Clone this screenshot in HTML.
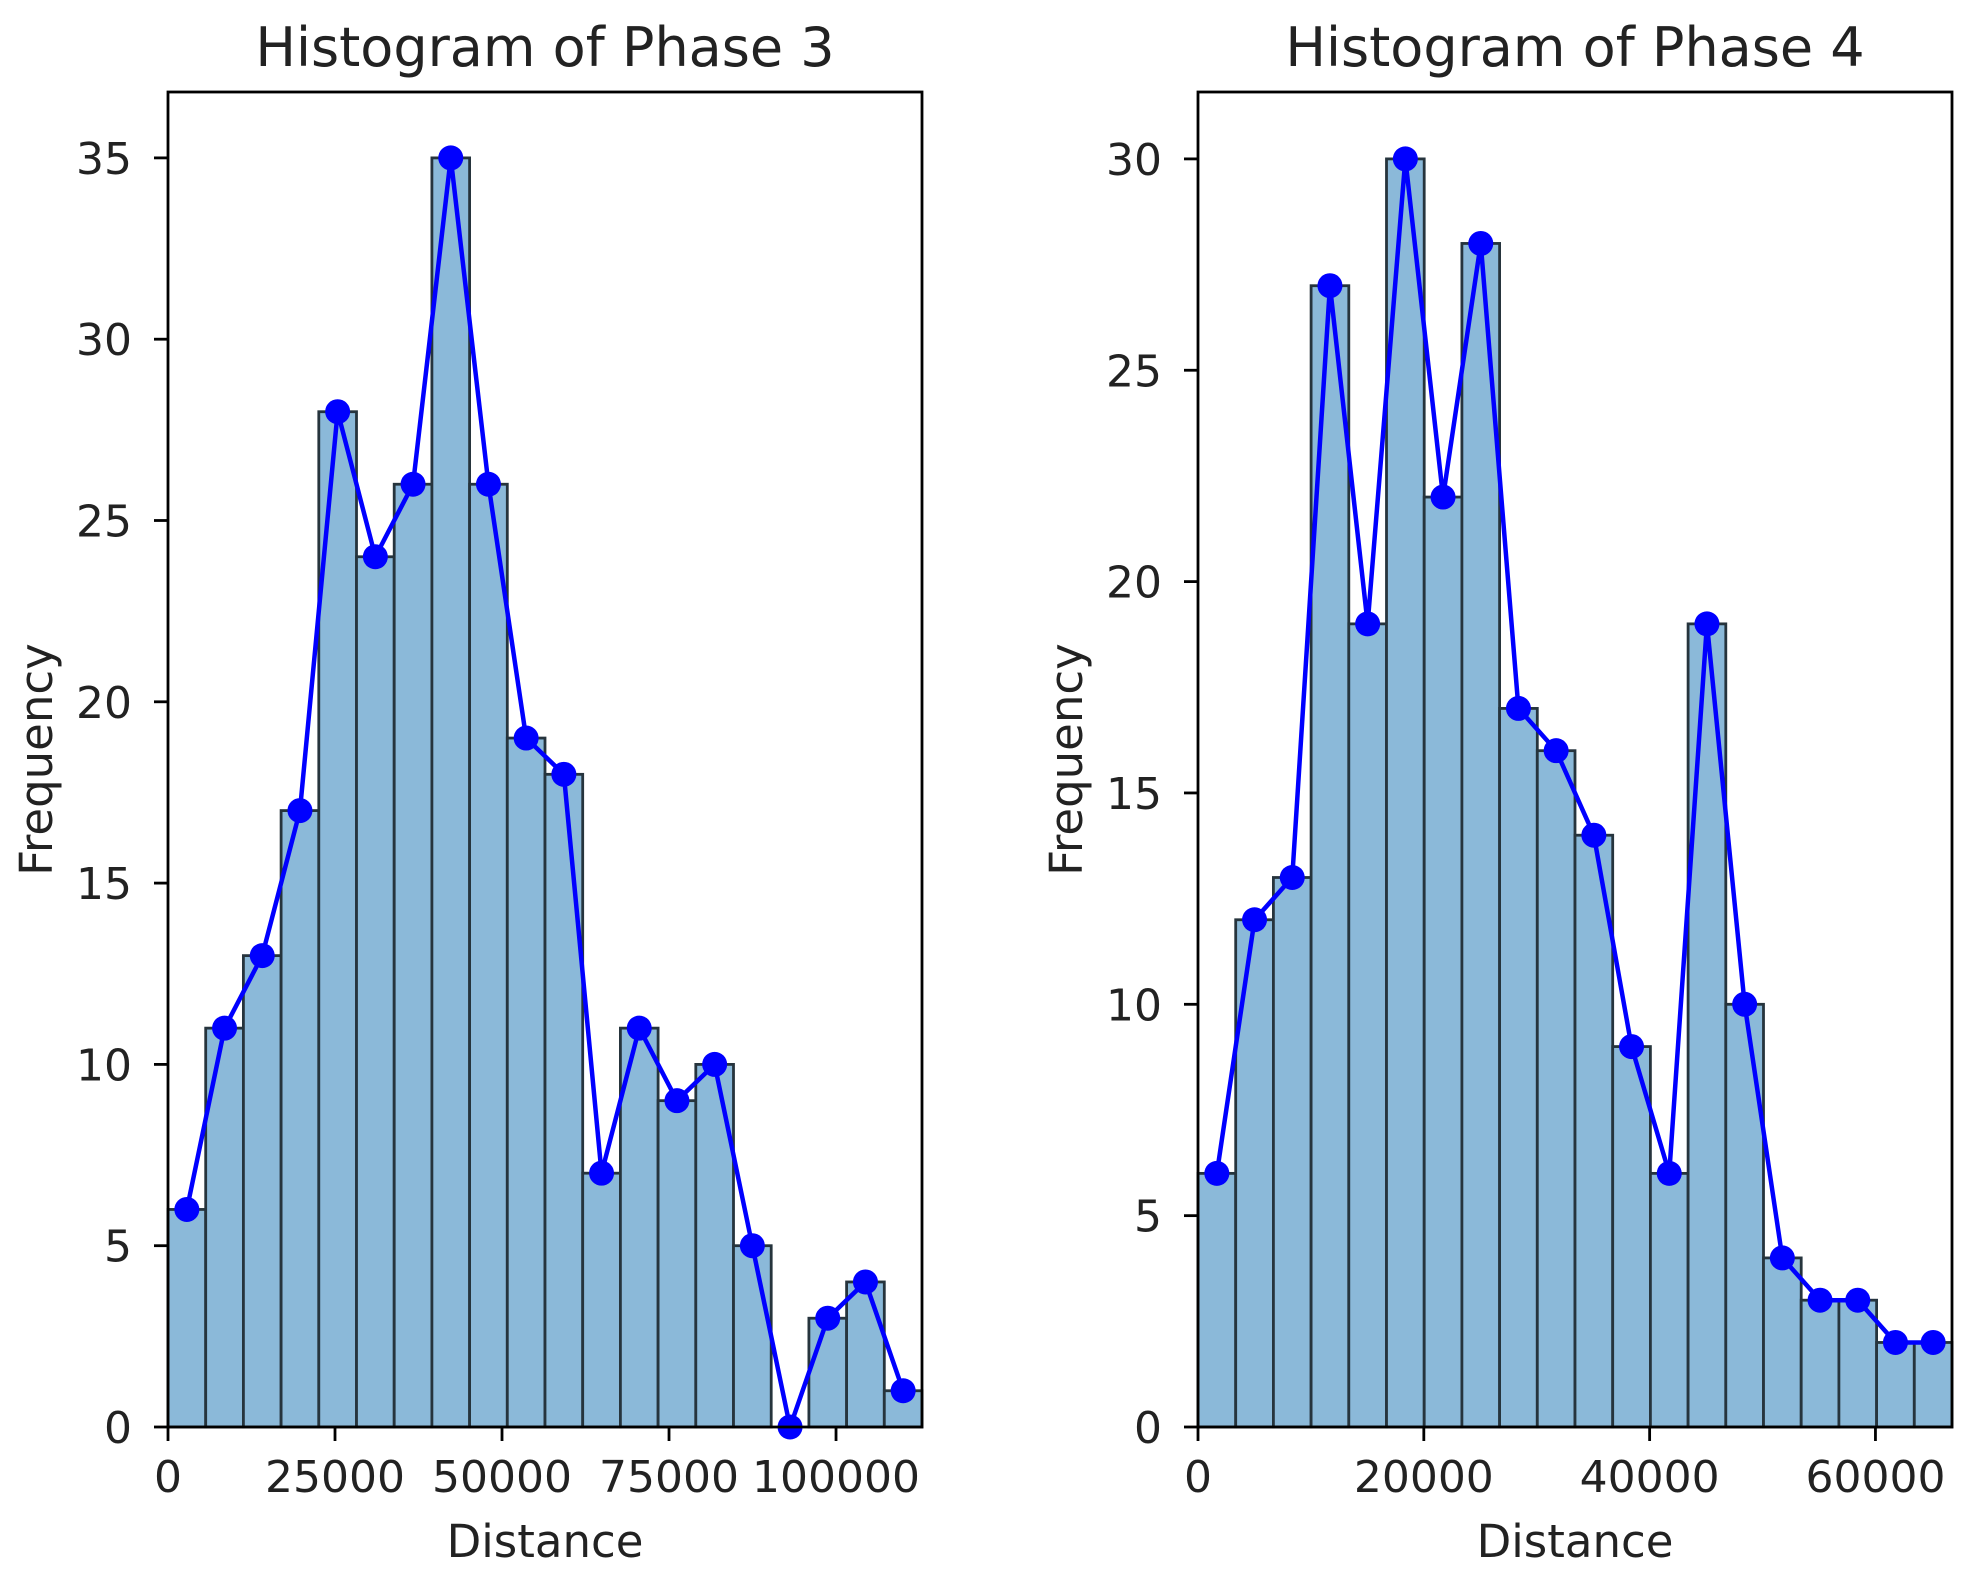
<!DOCTYPE html>
<html><head><meta charset="utf-8"><style>
html,body{margin:0;padding:0;background:#fff;}
svg{display:block;font-family:"DejaVu Sans","Liberation Sans",sans-serif;}
</style></head><body>
<svg id="chart" width="1977" height="1571"></svg>
<script>
// Phase 3 data
const phase3Counts = [6,11,13,17,28,24,26,35,26,19,18,7,11,9,10,5,0,3,4,1];
const phase3Range = [0, 112870];
const phase3XTicks = [0,25000,50000,75000,100000];
const phase3YTicks = [0,5,10,15,20,25,30,35];
// Phase 4 data
const phase4Counts = [6,12,13,27,19,30,22,28,17,16,14,9,6,19,10,4,3,3,2,2];
const phase4Range = [0, 66780];
const phase4XTicks = [0,20000,40000,60000];
const phase4YTicks = [0,5,10,15,20,25,30];

const NS='http://www.w3.org/2000/svg';
const svg=document.getElementById('chart');
function mk(tag,attrs,parent){const e=document.createElementNS(NS,tag);for(const k in attrs)e.setAttribute(k,attrs[k]);(parent||svg).appendChild(e);return e;}
function txt(parent,x,y,s,size,anchor,rot){
  const t=mk('text',{'text-anchor':anchor,'font-size':size,fill:'#222',
    transform:'translate('+x+' '+y+')'+(rot?' rotate('+rot+')':'')},parent);
  t.textContent=s;return t;
}

function panel(cfg){
  const {left,right,top,bottom,counts,range,xticks,yticks,yPerUnit,title,key}=cfg;
  const g=mk('g',{});
  
  
  const xs=v=>left+(v-range[0])/(range[1]-range[0])*(right-left);
  const ys=v=>bottom-v*yPerUnit;
  const n=counts.length, bw=(range[1]-range[0])/n;
  counts.forEach((c,i)=>{
    const x0=xs(range[0]+i*bw), x1=xs(range[0]+(i+1)*bw);
    const r=mk('rect',{x:x0,y:ys(c),width:x1-x0,height:bottom-ys(c),fill:'#8bb9d9',stroke:'#26343d','stroke-width':2.8},g);
    
    
  });
  const pts=counts.map((c,i)=>[xs(range[0]+(i+0.5)*bw),ys(c)]);
  const pl=mk('polyline',{points:pts.map(p=>p.join(',')).join(' '),fill:'none',stroke:'#0000ff','stroke-width':4.5},g);
  
  
  pts.forEach((p,i)=>{
    const c=mk('circle',{cx:p[0],cy:p[1],r:12.5,fill:'#0000ff'},g);
    
    
  });
  const fr=mk('rect',{x:left,y:top,width:right-left,height:bottom-top,fill:'none',stroke:'#000','stroke-width':2.8},g);
  
  
  xticks.forEach(t=>{
    const x=xs(t);
    mk('line',{x1:x,x2:x,y1:bottom,y2:bottom+14,stroke:'#000','stroke-width':2.8},g);
    const tx=txt(g,x,bottom+65,String(t),44,'middle');
    
    
  });
  yticks.forEach(t=>{
    const y=ys(t);
    mk('line',{x1:left-14,x2:left,y1:y,y2:y,stroke:'#000','stroke-width':2.8},g);
    const tx=txt(g,left-36,y+16,String(t),44,'end');
    
    
  });
  const ti=txt(g,(left+right)/2,66,title,54,'middle');
  
  
  const xl=txt(g,(left+right)/2,1557,'Distance',45,'middle');
  
  
  const yl=txt(g,left-116,(top+bottom)/2,'Frequency',45,'middle',-90);
  
  
}
panel({left:168,right:922,top:92,bottom:1427,counts:phase3Counts,range:phase3Range,xticks:phase3XTicks,yticks:phase3YTicks,yPerUnit:36.26,title:'Histogram of Phase 3',key:'phase3'});
panel({left:1198,right:1952,top:92,bottom:1427,counts:phase4Counts,range:phase4Range,xticks:phase4XTicks,yticks:phase4YTicks,yPerUnit:42.27,title:'Histogram of Phase 4',key:'phase4'});
</script>
</body></html>
